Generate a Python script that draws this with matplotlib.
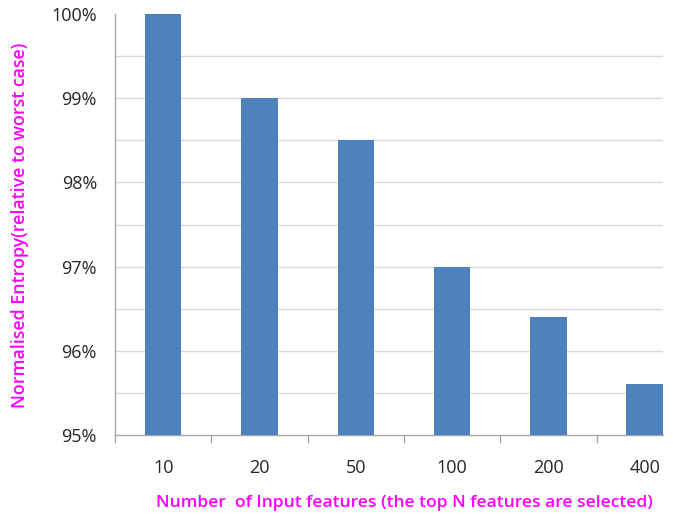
import numpy as np
import matplotlib
matplotlib.use("Agg")
import matplotlib.pyplot as plt
from matplotlib.ticker import MultipleLocator, FuncFormatter

# top-N feature counts and resulting normalised entropy (%)
features = ["10", "20", "50", "100", "200", "400"]
entropy = [100.0, 99.0, 98.5, 97.0, 96.4, 95.6]

BAR_COLOR = "#4F81BD"
LABEL_COLOR = "#FF00FF"
GRID_COLOR = "#D9D9D9"
AXIS_COLOR = "#A6A6A6"

plt.rcParams["font.family"] = ["Open Sans", "DejaVu Sans"]

fig = plt.figure(figsize=(6.73, 5.16), dpi=100)
W, H = 673.0, 516.0
# axes box in pixels: left 115, right 663, top 14, bottom 435
ax = fig.add_axes([115 / W, (H - 435) / H, (663 - 115) / W, (435 - 14) / H])

x = np.arange(len(features))
ax.bar(x, entropy, width=0.38, color=BAR_COLOR, zorder=3)

# last category runs past the right edge of the plot
ax.set_xlim(-0.5, 5.5 - 30 / 96.5)
ax.set_ylim(95, 100)

ax.yaxis.set_major_locator(MultipleLocator(1))
ax.yaxis.set_major_formatter(FuncFormatter(lambda v, p: "%d%%" % round(v)))
# horizontal gridlines every half percent, none along the top edge
for level in np.arange(95.5, 100, 0.5):
    ax.axhline(level, color=GRID_COLOR, linewidth=1.0, zorder=0)

ax.tick_params(axis="y", which="both", length=0, pad=13, labelsize=13, labelcolor="#262626")
ax.set_xticks(x)
ax.set_xticklabels(features)
ax.set_xticks(np.arange(len(features)) - 0.5, minor=True)
ax.tick_params(axis="x", which="major", length=0, pad=17, labelsize=13, labelcolor="#262626")
ax.tick_params(axis="x", which="minor", length=6, width=1, color=AXIS_COLOR)

for side in ("top", "right"):
    ax.spines[side].set_visible(False)
for side in ("left", "bottom"):
    ax.spines[side].set_color(AXIS_COLOR)
    ax.spines[side].set_linewidth(1.0)

fig.text(404 / W, 1 - 503 / H, "Number  of Input features (the top N features are selected)",
         color=LABEL_COLOR, fontsize=12.6, fontweight="semibold", ha="center", va="center")
fig.text(20 / W, 1 - 225 / H, "Normalised Entropy(relative to worst case)",
         color=LABEL_COLOR, fontsize=12.8, fontweight="semibold", ha="center", va="center",
         rotation=90)

fig.savefig("out.png", dpi=100)
